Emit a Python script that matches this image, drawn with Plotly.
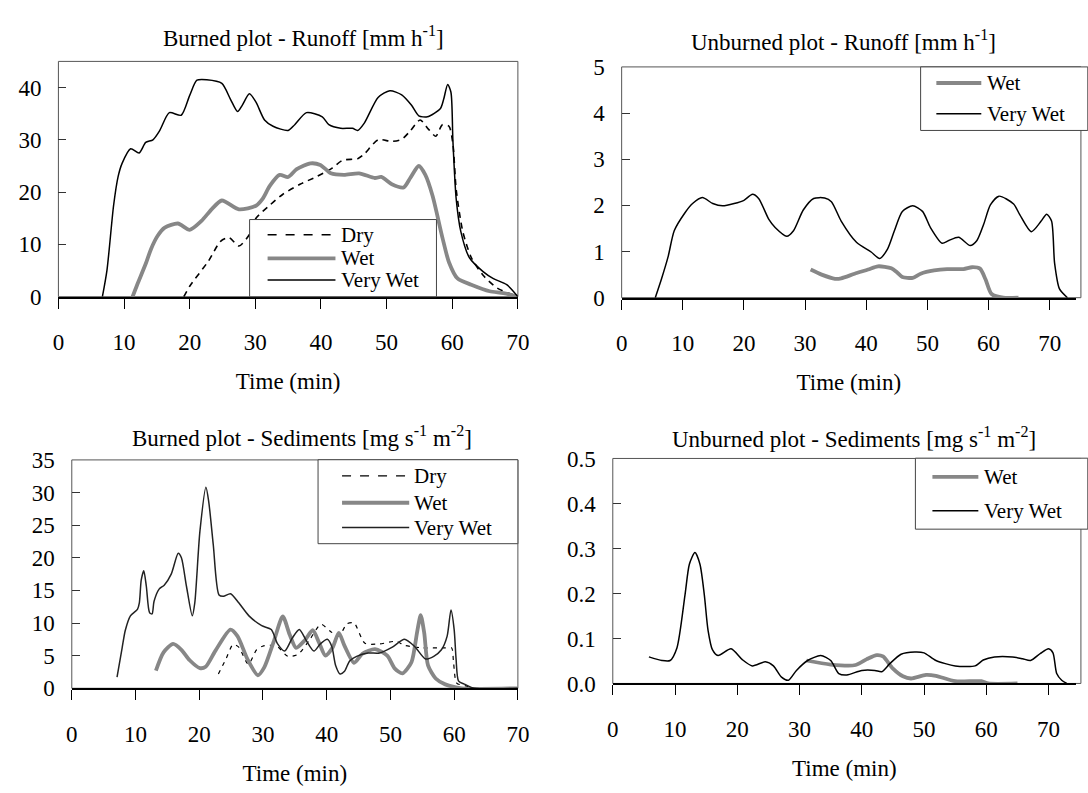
import plotly.graph_objects as go

# ---------------- data ----------------
# Burned plot - Runoff
br_vw_t = [6.7, 7.4, 8.4, 9.1, 9.7, 11.0, 12.3, 13.3, 14.4, 15.4, 16.9, 18.7, 20.0, 21.1, 22.6, 24.9, 26.2, 27.3, 28.0, 29.1, 30.1, 31.4, 32.7, 35.0, 36.0, 37.8, 40.2, 41.2, 43.0, 44.8, 45.6, 46.6, 48.7, 50.5, 52.3, 53.8, 54.9, 56.2, 58.2, 58.7, 59.3, 59.8, 60.1, 60.6, 61.3, 62.6, 64.7, 66.2, 68.3, 70.0]
br_vw_v = [0, 5.1, 17.4, 23.0, 25.5, 28.3, 27.5, 29.5, 30.0, 31.7, 35.2, 34.7, 38.5, 41.4, 41.5, 40.8, 37.8, 35.4, 36.6, 38.8, 37.2, 33.8, 32.6, 31.8, 32.9, 35.2, 34.4, 32.9, 32.2, 32.2, 31.8, 33.2, 38.1, 39.4, 38.6, 36.6, 34.6, 34.4, 36.0, 37.8, 40.6, 39.1, 29.8, 18.7, 12.5, 7.5, 4.8, 3.5, 2.3, 0]
br_wet_t = [11.3, 12.0, 13.3, 14.1, 15.1, 16.2, 18.2, 20.0, 21.8, 23.4, 24.9, 27.5, 30.1, 31.1, 32.2, 33.7, 35.0, 36.3, 38.4, 39.9, 41.5, 43.5, 45.8, 48.2, 49.2, 50.8, 52.6, 53.6, 54.9, 55.9, 57.0, 58.5, 59.5, 60.8, 62.9, 65.7, 67.8, 70.0]
br_wet_v = [0, 2.3, 6.3, 9.1, 11.6, 13.2, 14.0, 12.8, 14.5, 16.8, 18.4, 16.7, 17.4, 18.7, 21.2, 23.3, 22.9, 24.4, 25.5, 25.2, 23.6, 23.3, 23.6, 22.7, 22.9, 21.5, 20.9, 22.7, 25.0, 23.3, 19.3, 11.3, 6.6, 3.5, 2.3, 1.05, 0.7, 0]
br_dry_t = [19.1, 20.0, 22.9, 24.7, 26.0, 27.5, 29.1, 30.1, 32.2, 34.2, 36.8, 39.4, 41.7, 43.3, 45.6, 46.6, 48.7, 50.8, 52.3, 53.6, 55.1, 56.4, 57.5, 58.5, 59.5, 60.1, 60.6, 61.6, 62.9, 64.7, 66.8, 70.0]
br_dry_v = [0, 2.0, 6.9, 10.6, 11.3, 9.7, 11.9, 15.0, 17.5, 19.6, 21.5, 23.0, 24.6, 26.1, 26.4, 27.3, 30.0, 29.7, 30.1, 31.7, 33.8, 32.0, 30.7, 32.9, 32.6, 29.2, 20.5, 12.5, 7.5, 4.1, 1.7, 0]

# Unburned plot - Runoff
ur_vw_t = [5.5, 6.5, 7.6, 8.6, 10.3, 11.6, 13.2, 14.9, 16.5, 18.4, 20.0, 21.4, 22.4, 24.1, 25.1, 27.0, 28.1, 29.7, 31.4, 33.2, 34.3, 35.9, 38.4, 40.8, 42.2, 43.5, 44.6, 45.9, 47.6, 49.2, 50.5, 52.4, 53.5, 55.1, 57.0, 58.1, 59.2, 60.3, 61.7, 64.1, 65.1, 67.0, 68.6, 69.5, 70.3, 70.8, 71.6, 72.9]
ur_vw_v = [0, 0.40, 0.89, 1.45, 1.83, 2.04, 2.17, 2.04, 1.99, 2.04, 2.11, 2.24, 2.15, 1.69, 1.52, 1.33, 1.45, 1.90, 2.15, 2.16, 2.08, 1.66, 1.20, 0.99, 0.85, 1.06, 1.45, 1.87, 1.99, 1.87, 1.52, 1.18, 1.24, 1.31, 1.13, 1.24, 1.59, 2.01, 2.20, 2.03, 1.80, 1.43, 1.66, 1.81, 1.66, 0.75, 0.19, 0]
ur_wet_t = [30.9, 32.7, 34.9, 35.9, 38.1, 40.3, 41.9, 44.1, 45.1, 45.9, 47.6, 48.9, 51.1, 53.2, 55.9, 57.3, 58.6, 59.5, 60.5, 62.4, 64.9]
ur_wet_v = [0.61, 0.50, 0.41, 0.42, 0.52, 0.61, 0.68, 0.64, 0.54, 0.45, 0.43, 0.52, 0.59, 0.62, 0.62, 0.66, 0.63, 0.40, 0.08, 0.0, 0.0]

# Burned plot - Sediments
bs_vw_t = [7.1, 7.9, 8.4, 9.2, 10.3, 10.6, 10.9, 11.3, 11.7, 12.2, 12.6, 12.9, 13.7, 14.5, 15.6, 16.7, 17.2, 18.0, 18.9, 19.3, 20.1, 21.05, 21.5, 22.2, 23.1, 23.8, 24.9, 26.2, 27.8, 29.8, 31.3, 32.3, 33.4, 34.6, 35.7, 36.8, 38.0, 39.0, 40.1, 40.8, 41.4, 42.1, 42.8, 43.6, 44.7, 46.5, 48.3, 50.3, 52.2, 53.8, 55.5, 56.8, 58.0, 58.9, 59.5, 60.0, 60.3, 60.7, 61.7, 63.2, 70.0]
bs_vw_v = [1.7, 6.2, 8.9, 11.1, 12.1, 13.1, 16.6, 18.0, 15.6, 11.6, 11.4, 13.3, 15.2, 15.8, 17.5, 20.7, 20.0, 15.6, 11.1, 13.1, 24.0, 30.8, 28.5, 22.0, 14.3, 14.1, 14.5, 13.1, 11.1, 9.6, 9.0, 6.8, 5.7, 7.7, 9.0, 7.3, 5.7, 6.8, 7.5, 6.4, 3.5, 2.2, 2.6, 4.2, 4.9, 5.4, 5.4, 6.3, 7.5, 6.4, 4.5, 4.9, 5.9, 8.0, 12.0, 9.0, 4.5, 1.1, 0.6, 0, 0]
bs_wet_t = [13.2, 14.4, 15.9, 17.2, 18.5, 20.1, 21.0, 22.5, 24.9, 26.0, 27.6, 29.2, 30.2, 31.7, 33.1, 34.2, 35.2, 36.6, 37.8, 38.8, 39.8, 40.9, 41.9, 42.8, 44.3, 45.6, 47.6, 49.5, 50.7, 51.9, 53.3, 54.2, 54.75, 55.3, 55.9, 57.1, 58.6, 61.2, 70.0]
bs_wet_v = [2.7, 5.5, 6.8, 5.9, 4.3, 3.1, 3.3, 5.7, 9.0, 8.0, 4.4, 2.0, 3.2, 7.2, 11.0, 8.2, 6.2, 7.4, 8.9, 7.0, 5.0, 6.2, 8.5, 6.5, 3.9, 5.3, 6.0, 5.0, 3.0, 2.3, 4.0, 8.7, 11.2, 8.5, 3.5, 1.5, 0.6, 0, 0]
bs_dry_t = [23.0, 24.2, 25.3, 26.2, 27.7, 29.0, 30.1, 32.1, 33.9, 35.5, 37.3, 39.1, 40.6, 41.9, 43.2, 44.3, 46.0, 48.3, 50.9, 52.2, 55.0, 58.6, 59.6, 59.9, 60.4, 61.7, 63.2, 70.0]
bs_dry_v = [2.2, 4.5, 6.7, 6.3, 3.7, 5.9, 6.5, 6.5, 4.9, 5.2, 7.4, 9.8, 8.7, 8.0, 9.9, 10.0, 6.9, 6.8, 7.2, 6.6, 6.2, 6.2, 6.2, 4.0, 0.8, 0.4, 0, 0]

# Unburned plot - Sediments
us_vw_t = [5.8, 7.9, 9.2, 10.3, 11.6, 12.3, 13.2, 14.0, 14.7, 15.3, 16.0, 16.9, 19.0, 20.8, 22.4, 24.5, 25.8, 27.1, 28.2, 29.5, 31.3, 33.4, 35.0, 36.3, 37.6, 40.0, 42.1, 43.2, 44.5, 46.3, 48.5, 50.0, 51.9, 55.0, 58.2, 59.5, 61.3, 64.2, 65.8, 67.1, 68.7, 70.0, 70.7, 71.3, 72.1, 72.9]
us_vw_v = [0.059, 0.051, 0.051, 0.079, 0.197, 0.265, 0.291, 0.265, 0.197, 0.118, 0.075, 0.062, 0.077, 0.053, 0.039, 0.048, 0.039, 0.014, 0.007, 0.029, 0.051, 0.062, 0.051, 0.022, 0.019, 0.029, 0.029, 0.026, 0.044, 0.065, 0.070, 0.068, 0.051, 0.039, 0.039, 0.052, 0.059, 0.059, 0.055, 0.051, 0.067, 0.077, 0.068, 0.022, 0.007, 0.0]
us_wet_t = [31.1, 35.0, 39.0, 40.8, 42.4, 43.4, 45.0, 46.6, 47.9, 50.3, 51.9, 55.0, 59.2, 60.3, 65.0]
us_wet_v = [0.051, 0.042, 0.041, 0.054, 0.063, 0.060, 0.033, 0.016, 0.011, 0.019, 0.017, 0.005, 0.005, 0.0, 0.0]

x_ticks = [0, 10, 20, 30, 40, 50, 60, 70]
titles = ["Burned plot - Runoff [mm h<sup>-1</sup>]",
          "Unburned plot - Runoff [mm h<sup>-1</sup>]",
          "Burned plot - Sediments [mg s<sup>-1</sup> m<sup>-2</sup>]",
          "Unburned plot - Sediments [mg s<sup>-1</sup> m<sup>-2</sup>]"]

# ---------------- layout helpers ----------------
W, H = 1088, 793
FONT = "Liberation Serif"
GREY = "#878787"

def PX(px):
    return px / W

def PY(py):
    return 1 - py / H

fig = go.Figure()

def line(t, v, ax, color, width, dash="solid", name=""):
    fig.add_trace(go.Scatter(x=t, y=v, mode="lines", name=name, showlegend=False,
                             xaxis="x" + ax, yaxis="y" + ax,
                             line=dict(color=color, width=width, dash=dash,
                                       shape="spline", smoothing=0.7),
                             hoverinfo="skip"))

line(br_dry_t, br_dry_v, "", "black", 1.6, "6px,5px", "Dry")
line(br_wet_t, br_wet_v, "", GREY, 3.8, name="Wet")
line(br_vw_t, br_vw_v, "", "black", 1.5, name="Very Wet")

line(ur_wet_t, ur_wet_v, "2", GREY, 3.8, name="Wet")
line(ur_vw_t, ur_vw_v, "2", "black", 1.5, name="Very Wet")

line(bs_dry_t, bs_dry_v, "3", "black", 1.2, "4px,5px", "Dry")
line(bs_wet_t, bs_wet_v, "3", GREY, 3.8, name="Wet")
line(bs_vw_t, bs_vw_v, "3", "#222222", 1.5, name="Very Wet")

line(us_wet_t, us_wet_v, "4", GREY, 3.8, name="Wet")
line(us_vw_t, us_vw_v, "4", "black", 1.5, name="Very Wet")

panels = [
    (53.3, 520.5, 51.0, 294.0, 70.0, 45.0, 10, None),
    (626.0, 1088.0, 56.7, 295.0, 74.3, 5.0, 1, None),
    (66.9, 520.5, 462.5, 698.3, 70.0, 35.0, 5, None),
    (617.0, 1088.0, 461.0, 693.3, 74.4, 0.5, 0.1, ".1f"),
]

layout = dict(width=W, height=H, autosize=False,
              margin=dict(l=0, r=0, t=0, b=0),
              paper_bgcolor="white", plot_bgcolor="white",
              font=dict(family=FONT, size=23, color="black"),
              showlegend=False)

shapes = []
annotations = []
for i, (l, r, t, b, xmax, ymax, dt, fmt) in enumerate(panels):
    sfx = "" if i == 0 else str(i + 1)
    layout["xaxis" + sfx] = dict(domain=[PX(l), PX(r)], range=[0, xmax],
                                 anchor="y" + sfx, tickvals=x_ticks,
                                 ticks="outside", ticklen=10, tickwidth=1, tickcolor="black",
                                 showline=True, linecolor="black", linewidth=2,
                                 showgrid=False, zeroline=False,
                                 ticklabelstandoff=14,
                                 tickfont=dict(family=FONT, size=23),
                                 title=dict(text="Time (min)", font=dict(family=FONT, size=23), standoff=19))
    layout["yaxis" + sfx] = dict(domain=[PY(b), PY(t)], range=[0, ymax],
                                 anchor="x" + sfx, dtick=dt, tick0=0,
                                 tickformat=fmt if fmt else "",
                                 ticks="inside", ticklen=8, tickwidth=1, tickcolor="#333333",
                                 showline=False, showgrid=False, zeroline=False,
                                 ticklabelstandoff=16,
                                 tickfont=dict(family=FONT, size=23))
    shapes.append(dict(type="rect", xref="paper", yref="paper",
                       x0=PX(l), x1=PX(r) if r < W else PX(W + 5), y0=PY(b), y1=PY(t),
                       line=dict(color="#555555", width=1), layer="below"))

title_pos = [(303, 25), (852, 29), (301, 438), (862, 439)]
for txt, (x, y) in zip(titles, title_pos):
    annotations.append(dict(text=txt, x=PX(x), y=PY(y), xref="paper", yref="paper",
                            xanchor="center", yanchor="middle", showarrow=False,
                            font=dict(family=FONT, size=23, color="black")))

legends = [
    ((247.7, 437.7, 214.3, 294.0), 266, 335, 339,
     [("Dry", 230, "black", 1.6, "dash"), ("Wet", 254.3, GREY, 3.8, "solid"),
      ("Very Wet", 276.7, "black", 1.5, "solid")]),
    ((930.0, 1100.0, 56.7, 122.3), 946, 991.7, 995,
     [("Wet", 73.3, GREY, 3.8, "solid"), ("Very Wet", 105, "black", 1.5, "solid")]),
    ((317.3, 520.5, 462.3, 549.0), 341.7, 410, 413,
     [("Dry", 479, "black", 1.2, "dash"), ("Wet", 506.7, GREY, 3.8, "solid"),
      ("Very Wet", 532.3, "#222222", 1.5, "solid")]),
    ((924.7, 1100.0, 460.7, 534.0), 942, 988.7, 992,
     [("Wet", 480, GREY, 3.8, "solid"), ("Very Wet", 515, "black", 1.5, "solid")]),
]
for (bl, br, bt, bb), sx0, sx1, tx, entries in legends:
    shapes.append(dict(type="rect", xref="paper", yref="paper",
                       x0=PX(bl), x1=PX(br), y0=PY(bb), y1=PY(bt),
                       line=dict(color="#444444", width=1), fillcolor="white", layer="above"))
    for label, y, col, w, dash in entries:
        shapes.append(dict(type="line", xref="paper", yref="paper",
                           x0=PX(sx0), x1=PX(sx1), y0=PY(y), y1=PY(y),
                           line=dict(color=col, width=w, dash=dash), layer="above"))
        annotations.append(dict(text=label, x=PX(tx), y=PY(y), xref="paper", yref="paper",
                                xanchor="left", yanchor="middle", showarrow=False,
                                font=dict(family=FONT, size=21, color="black")))

layout["shapes"] = shapes
layout["annotations"] = annotations
fig.update_layout(**layout)

fig.write_html("out.html",
               config={"displayModeBar": False},
               post_script="document.body.style.margin='0';document.body.style.overflow='hidden';")
